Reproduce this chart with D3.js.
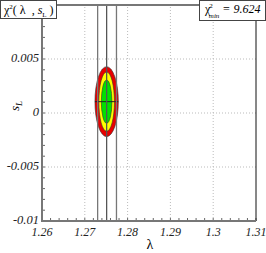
<!DOCTYPE html>
<html>
<head>
<meta charset="utf-8">
<script src="https://cdn.jsdelivr.net/npm/d3@7"></script>
<style>
  body { margin: 0; background: #fff; }
  text { font-family: "Liberation Serif", "DejaVu Serif", serif; }
</style>
</head>
<body>
<svg id="chart" width="266" height="253"></svg>
<script>
// chart data
const xDomain = [1.26, 1.31];
const yDomain = [-0.01, 0.01];
const xTicks = [1.26, 1.27, 1.28, 1.29, 1.3, 1.31];
const xTickLabels = ["1.26", "1.27", "1.28", "1.29", "1.3", "1.31"];
const yTicks = [-0.01, -0.005, 0, 0.005];
const yTickLabels = ["-0.01", "-0.005", "0", "0.005"];
const lambdaLines = [1.2730, 1.2751, 1.2774];
const bestFit = [1.2751, 0.00105];
// contour half-widths in lambda and s_L, outermost first
const contourNames = ["3sigma", "2sigma", "1sigma"];
const contourRx = [0.00273, 0.00182, 0.00124];
const contourRy = [0.00324, 0.00275, 0.0020];
const contourColors = ["#e80000", "#ffff00", "#00e000"];
const chiMin = "9.624";

const margin = { top: 5, right: 10, bottom: 32, left: 42 };
const width = 266, height = 253;

const svg = d3.select("#chart");

const x = d3.scaleLinear().domain(xDomain).range([margin.left, width - margin.right]);
const y = d3.scaleLinear().domain(yDomain).range([height - margin.bottom, margin.top]);

// dotted grid
svg.append("g")
  .selectAll("line")
  .data(xTicks.slice(1, -1))
  .enter().append("line")
  .attr("x1", d => x(d)).attr("x2", d => x(d))
  .attr("y1", y.range()[0]).attr("y2", y.range()[1])
  .attr("stroke", "#bbb").attr("stroke-dasharray", "1,2");

svg.append("g")
  .selectAll("line")
  .data(yTicks.slice(1))
  .enter().append("line")
  .attr("x1", x.range()[0]).attr("x2", x.range()[1])
  .attr("y1", d => y(d)).attr("y2", d => y(d))
  .attr("stroke", "#bbb").attr("stroke-dasharray", "1,2");

// contours
svg.append("g")
  .selectAll("ellipse")
  .data(contourNames)
  .enter().append("ellipse")
  .attr("cx", x(bestFit[0]))
  .attr("cy", y(bestFit[1]))
  .attr("rx", (d, i) => x(bestFit[0] + contourRx[i]) - x(bestFit[0]))
  .attr("ry", (d, i) => y(bestFit[1]) - y(bestFit[1] + contourRy[i]))
  .attr("fill", (d, i) => contourColors[i])
  .attr("stroke", "#333")
  .attr("stroke-width", 0.6);

// horizontal line through best fit, across the outer contour
svg.append("line")
  .attr("x1", x(bestFit[0] - contourRx[0])).attr("x2", x(bestFit[0] + contourRx[0]))
  .attr("y1", y(bestFit[1])).attr("y2", y(bestFit[1]))
  .attr("stroke", "#222").attr("stroke-width", 1);

// lambda lines
svg.append("g")
  .selectAll("line")
  .data(lambdaLines)
  .enter().append("line")
  .attr("x1", d => x(d)).attr("x2", d => x(d))
  .attr("y1", y.range()[0]).attr("y2", y.range()[1])
  .attr("stroke", (d, i) => i === 1 ? "#555" : "#777")
  .attr("stroke-width", 1.3);

// minor ticks (pointing inward)
const xMinor = d3.range(0, 26).map(i => xDomain[0] + i * 0.002);
svg.append("g")
  .selectAll("line")
  .data(xMinor)
  .enter().append("line")
  .attr("x1", d => x(d)).attr("x2", d => x(d))
  .attr("y1", y.range()[0]).attr("y2", d => y.range()[0] - 3)
  .attr("stroke", "#666");

const yMinor = d3.range(0, 21).map(i => yDomain[0] + i * 0.001);
svg.append("g")
  .selectAll("line")
  .data(yMinor)
  .enter().append("line")
  .attr("x1", x.range()[0]).attr("x2", x.range()[0] + 3)
  .attr("y1", d => y(d)).attr("y2", d => y(d))
  .attr("stroke", "#666");

// frame
svg.append("line")
  .attr("x1", x.range()[1]).attr("x2", x.range()[1])
  .attr("y1", y.range()[0]).attr("y2", y.range()[1])
  .attr("stroke", "#111").attr("stroke-width", 1);
svg.append("line")
  .attr("x1", x.range()[0]).attr("x2", x.range()[1])
  .attr("y1", y.range()[1]).attr("y2", y.range()[1])
  .attr("stroke", "#777").attr("stroke-width", 2);
svg.append("line")
  .attr("x1", x.range()[0]).attr("x2", x.range()[1])
  .attr("y1", y.range()[0]).attr("y2", y.range()[0])
  .attr("stroke", "#777").attr("stroke-width", 2);
svg.append("line")
  .attr("x1", x.range()[0]).attr("x2", x.range()[0])
  .attr("y1", y.range()[0] + 1).attr("y2", y.range()[1])
  .attr("stroke", "#777").attr("stroke-width", 2);

// tick labels
svg.append("g")
  .selectAll("text")
  .data(xTicks)
  .enter().append("text")
  .attr("x", d => x(d))
  .attr("y", y.range()[0] + 15)
  .attr("text-anchor", "middle")
  .attr("font-size", 12)
  .attr("font-style", "italic")
  .attr("fill", "#222")
  .text((d, i) => xTickLabels[i]);

svg.append("g")
  .selectAll("text")
  .data(yTicks)
  .enter().append("text")
  .attr("x", x.range()[0] - 3)
  .attr("y", d => y(d) + 3)
  .attr("text-anchor", "end")
  .attr("font-size", 12.5)
  .attr("font-style", "italic")
  .attr("fill", "#222")
  .text((d, i) => yTickLabels[i]);

// axis titles
svg.append("text")
  .attr("x", (x.range()[0] + x.range()[1]) / 2 + 1)
  .attr("y", height - 4)
  .attr("text-anchor", "middle")
  .attr("font-size", 14)
  .text("λ");

const yl = svg.append("text")
  .attr("transform", "translate(19," + (y(0) - 7) + ") rotate(-90)")
  .attr("text-anchor", "middle")
  .attr("font-size", 13)
  .attr("font-style", "italic");
yl.append("tspan").text("s");
yl.append("tspan").attr("font-size", 9).attr("dy", 3).text("L");

// title box (left)
svg.append("rect")
  .attr("x", 0.5).attr("y", 0.5).attr("width", 56).attr("height", 18)
  .attr("fill", "#fff").attr("stroke", "#444");
const t1 = svg.append("text").attr("x", 4).attr("y", 14).attr("font-size", 12)
  .attr("xml:space", "preserve");
t1.append("tspan").text("χ");
t1.append("tspan").attr("font-size", 7).attr("dy", -5).text("2");
t1.append("tspan").attr("dy", 5).text("( λ  , ");
t1.append("tspan").attr("font-style", "italic").text("s");
t1.append("tspan").attr("font-size", 7).attr("dy", 3).text("L");
t1.append("tspan").attr("dy", -3).text(" )");

// chi2 min box (right)
svg.append("rect")
  .attr("x", 199.5).attr("y", 0.5).attr("width", 66).attr("height", 20)
  .attr("fill", "#fff").attr("stroke", "#444");
const t2 = svg.append("text").attr("x", 205).attr("y", 13).attr("font-size", 12);
t2.append("tspan").text("χ");
t2.append("tspan").attr("font-size", 7).attr("dx", -1).attr("dy", -5).text("2");
t2.append("tspan").attr("font-size", 7).attr("font-style", "italic").attr("dx", -4).attr("dy", 10).text("min");
t2.append("tspan").attr("font-style", "italic").attr("dx", 3).attr("dy", -5).text("= " + chiMin);
</script>
</body>
</html>
